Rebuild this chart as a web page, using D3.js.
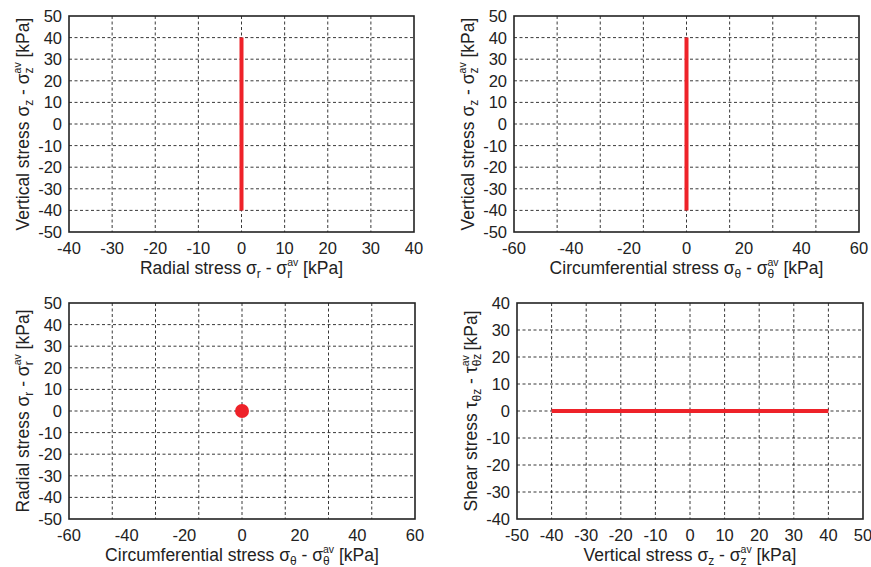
<!DOCTYPE html>
<html lang="en">
    <head>
        <meta charset="utf-8">
        <title>Stress paths</title>
        <script src="https://d3js.org/d3.v7.min.js"></script>
        <style type="text/css">
            body {
                margin: 0;
                background: white;
            }
            .tick-label {
                font-family: "Liberation Sans", Arial, sans-serif;
                font-size: 16.5px;
                fill: #222;
            }
            .title {
                font-family: "Liberation Sans", Arial, sans-serif;
                font-size: 17.5px;
                fill: #222;
            }
            .grid {
                stroke: #222;
                stroke-width: 0.9px;
                stroke-dasharray: 3 2.5;
            }
            .frame {
                fill: none;
                stroke: #222;
                stroke-width: 1.6px;
            }
            .path {
                fill: none;
                stroke: #ee2229;
                stroke-width: 4px;
            }
        </style>
    </head>
    <body>
        <script type="text/javascript">

            const w = 871;
            const h = 567;

            // tick labels and grid positions
            const ticks40 = [-40, -30, -20, -10, 0, 10, 20, 30, 40];
            const ticks50 = [-50, -40, -30, -20, -10, 0, 10, 20, 30, 40, 50];
            const ticks60 = [-60, -40, -20, 0, 20, 40, 60];
            const grid60 = [-45, -30, -15, 0, 15, 30, 45]; // grid splits 8 ways

            // stress paths (kPa)
            const radialVertical = [{x: 0, y: -40}, {x: 0, y: 40}];
            const circVertical = [{x: 0, y: -40}, {x: 0, y: 40}];
            const circRadial = [{x: 0, y: 0}];
            const vertShear = [{x: -40, y: 0}, {x: 40, y: 0}];

            // title pieces: [text, kind, superscript]
            const tVertical = [["Vertical stress σ"], ["z", "sub"], [" - σ"], ["z", "subsup", "av"], [" [kPa]"]];
            const tRadialX = [["Radial stress σ"], ["r", "sub"], [" - σ"], ["r", "subsup", "av"], [" [kPa]"]];
            const tCirc = [["Circumferential stress σ"], ["θ", "sub"], [" - σ"], ["θ", "subsup", "av"], [" [kPa]"]];
            const tRadialY = tRadialX;
            const tShear = [["Shear stress τ"], ["θz", "sub"], [" - τ"], ["θz", "subsup", "av"], [" [kPa]"]];

            const panels = [
                {left: 69, right: 414, top: 16, bottom: 232, xDom: [-40, 40], yDom: [-50, 50],
                 xTicks: ticks40, xGrid: ticks40, yTicks: ticks50, yGrid: ticks50,
                 xTitle: tRadialX, yTitle: tVertical, data: radialVertical, type: "line"},
                {left: 514, right: 859, top: 16, bottom: 232, xDom: [-60, 60], yDom: [-50, 50],
                 xTicks: ticks60, xGrid: grid60, yTicks: ticks50, yGrid: ticks50,
                 xTitle: tCirc, yTitle: tVertical, data: circVertical, type: "line"},
                {left: 69, right: 415, top: 303, bottom: 519, xDom: [-60, 60], yDom: [-50, 50],
                 xTicks: ticks60, xGrid: grid60, yTicks: ticks50, yGrid: ticks50,
                 xTitle: tCirc, yTitle: tRadialY, data: circRadial, type: "dot"},
                {left: 517, right: 863, top: 303, bottom: 519, xDom: [-50, 50], yDom: [-40, 40],
                 xTicks: ticks50, xGrid: ticks50, yTicks: ticks40, yGrid: ticks40,
                 xTitle: tVertical, yTitle: tShear, data: vertShear, type: "line"}
            ];

            const svg = d3.select("body")
                    .append("svg")
                    .attr("width", w)
                    .attr("height", h);

            // writes a title with stacked sub/superscripts
            function writeTitle(text, parts) {
                let back = 0;
                parts.forEach(p => {
                    if (!p[1]) {
                        text.append("tspan").attr("dy", back).text(p[0]);
                        back = 0;
                    } else if (p[1] == "sub") {
                        text.append("tspan").attr("dy", 4 + back).attr("font-size", "12px").text(p[0]);
                        back = -4;
                    } else {
                        const sub = text.append("tspan").attr("dy", 4 + back).attr("font-size", "12px").text(p[0]);
                        const sw = sub.node().getComputedTextLength();
                        text.append("tspan").attr("dx", -sw).attr("dy", -12)
                            .attr("font-size", "10.5px").text(p[2]);
                        back = 8;
                    }
                });
            }

            panels.forEach(p => {
                const xScale = d3.scaleLinear().domain(p.xDom).range([p.left, p.right]);
                const yScale = d3.scaleLinear().domain(p.yDom).range([p.bottom, p.top]);
                const g = svg.append("g");

                //dashed grid
                g.selectAll(".gx")
                    .data(p.xGrid.filter(d => d > p.xDom[0] && d < p.xDom[1]))
                    .join("line")
                    .attr("class", "grid")
                    .attr("x1", d => xScale(d)).attr("x2", d => xScale(d))
                    .attr("y1", p.top).attr("y2", p.bottom);

                g.selectAll(".gy")
                    .data(p.yGrid.filter(d => d > p.yDom[0] && d < p.yDom[1]))
                    .join("line")
                    .attr("class", "grid")
                    .attr("y1", d => yScale(d)).attr("y2", d => yScale(d))
                    .attr("x1", p.left).attr("x2", p.right);

                g.append("rect")
                    .attr("class", "frame")
                    .attr("x", p.left).attr("y", p.top)
                    .attr("width", p.right - p.left)
                    .attr("height", p.bottom - p.top);

                //tick labels
                g.selectAll(".xl")
                    .data(p.xTicks)
                    .join("text")
                    .attr("class", "tick-label")
                    .attr("text-anchor", "middle")
                    .attr("x", d => xScale(d))
                    .attr("y", p.bottom + 22)
                    .text(d => d);

                g.selectAll(".yl")
                    .data(p.yTicks)
                    .join("text")
                    .attr("class", "tick-label")
                    .attr("text-anchor", "end")
                    .attr("x", p.left - 7)
                    .attr("y", d => yScale(d) + 6)
                    .text(d => d);

                //titles
                const xt = g.append("text")
                    .attr("class", "title")
                    .attr("text-anchor", "middle")
                    .attr("x", (p.left + p.right) / 2)
                    .attr("y", p.bottom + 42);
                writeTitle(xt, p.xTitle);

                const yt = g.append("text")
                    .attr("class", "title")
                    .attr("text-anchor", "middle")
                    .attr("transform", "translate(" + (p.left - 40) + "," + ((p.top + p.bottom) / 2) + ") rotate(-90)");
                writeTitle(yt, p.yTitle);

                //data
                if (p.type == "dot") {
                    g.selectAll("circle")
                        .data(p.data)
                        .join("circle")
                        .attr("cx", d => xScale(d.x))
                        .attr("cy", d => yScale(d.y))
                        .attr("r", 7)
                        .attr("fill", "#ee2229");
                } else {
                    const coords = d3.line()
                        .x(d => xScale(d.x))
                        .y(d => yScale(d.y));
                    g.append("path")
                        .datum(p.data)
                        .attr("class", "path")
                        .attr("d", coords);
                }
            });
        </script>
    </body>
</html>
